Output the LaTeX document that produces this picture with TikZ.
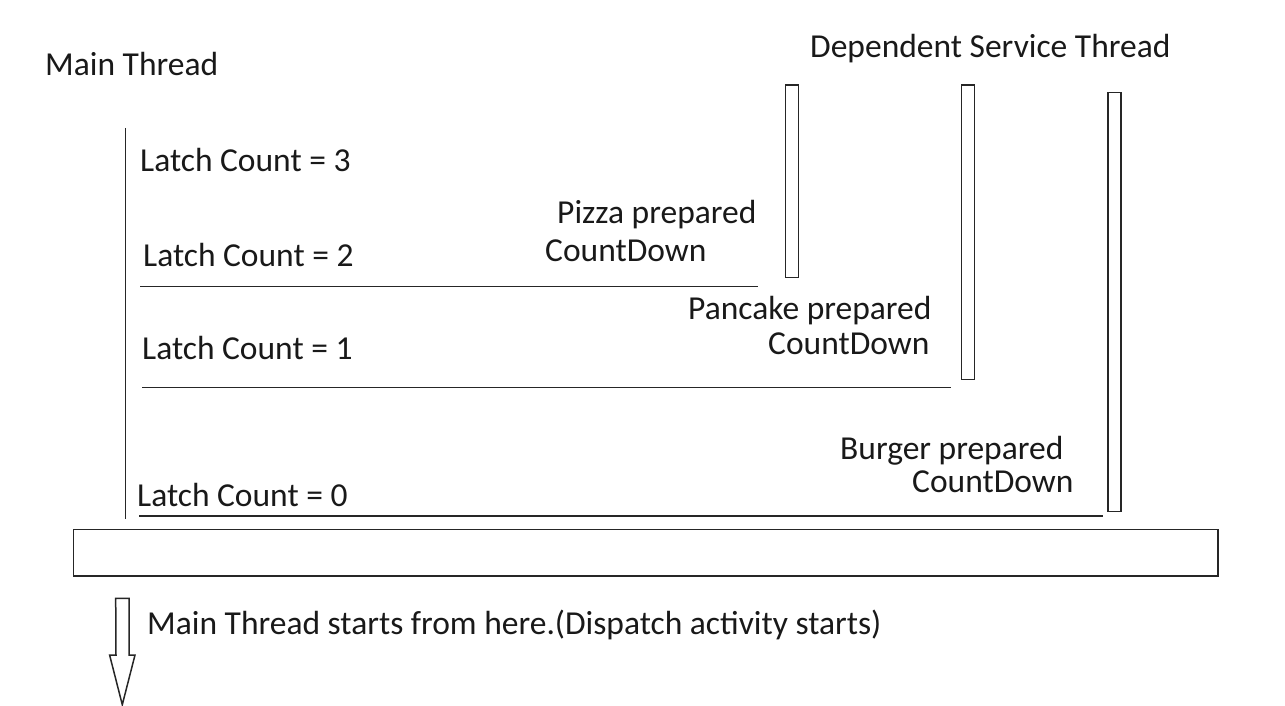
\documentclass[tikz,border=0pt]{standalone}
\usepackage{fontspec}
\setmainfont{Carlito}
\usetikzlibrary{positioning}

\begin{document}
\begin{tikzpicture}[x=1pt,y=-1pt]
        \tikzstyle{txt}=[inner sep=0pt, anchor=base west, text=black!90, font=\fontsize{33.5}{37}\selectfont]
        \tikzstyle{bar}=[rectangle, draw=black!85, line width=1.5pt, minimum width=13pt, inner sep=0pt]
        \tikzstyle{latch}=[draw=black!85, line width=1.5pt]
        \useasboundingbox (0,0) rectangle (1285,706);
        % titles
        \node[txt] (main) at (45,75.7) {Main Thread};
        \node[txt] (dep) at (810,57.7) {Dependent Service Thread};
        % main thread line and latch counts
        \coordinate (mtop) at (125.5,128);
        \coordinate (mbot) at (125.5,519);
        \draw[latch] (mtop) -- (mbot);
        \node[txt] (lc3) at (140,171.7) {Latch Count = 3};
        \node[txt] (lc2) at (143,266) {Latch Count = 2};
        \node[txt] (lc1) at (142,359.3) {Latch Count = 1};
        \node[txt] (lc0) at (137,506.7) {Latch Count = 0};
        % service threads
        \node[bar, minimum height=192.7pt] (pizzabar) at (791.8,181.3) {};
        \node[bar, minimum height=294.3pt] (pancakebar) at (968,232.2) {};
        \node[bar, minimum height=419pt] (burgerbar) at (1114.5,302.2) {};
        \node[txt] (pizza) at (557,223.3) {Pizza prepared};
        \node[txt] (pizzacd) at (545,261.7) {CountDown};
        \node[txt] (pancake) at (688,319.3) {Pancake prepared};
        \node[txt] (pancakecd) at (768,354.3) {CountDown};
        \node[txt] (burger) at (840,459.3) {Burger prepared};
        \node[txt] (burgercd) at (912,492.7) {CountDown};
        % count down lines
        \coordinate (l2a) at (140,286.7);
        \coordinate (l2b) at (758,286.7);
        \coordinate (l1a) at (142,387.3);
        \coordinate (l1b) at (950.7,387.3);
        \coordinate (l0a) at (139,516);
        \coordinate (l0b) at (1102.7,516);
        \path (l2a) edge [latch] (l2b)
        (l1a) edge [latch] (l1b)
        (l0a) edge [latch] (l0b);
        % dispatch
        \node[rectangle, draw=black!85, line width=1.5pt, minimum width=1144.7pt, minimum height=46.7pt, inner sep=0pt] (base) at (645.7,552.7) {};
        \coordinate (arr) at (122.3,598.3);
        \draw[black!85, line width=1.5pt] (arr) ++(-6.6,0) -- ++(13.3,0) -- ++(0,56.7) -- ++(6,0) -- ++(-12.7,49.7) -- ++(-12.7,-49.7) -- ++(6.4,0) -- cycle;
        \node[txt] (start) at (147,634) {Main Thread starts from here.(Dispatch activity starts)};
      \end{tikzpicture}
\end{document}
